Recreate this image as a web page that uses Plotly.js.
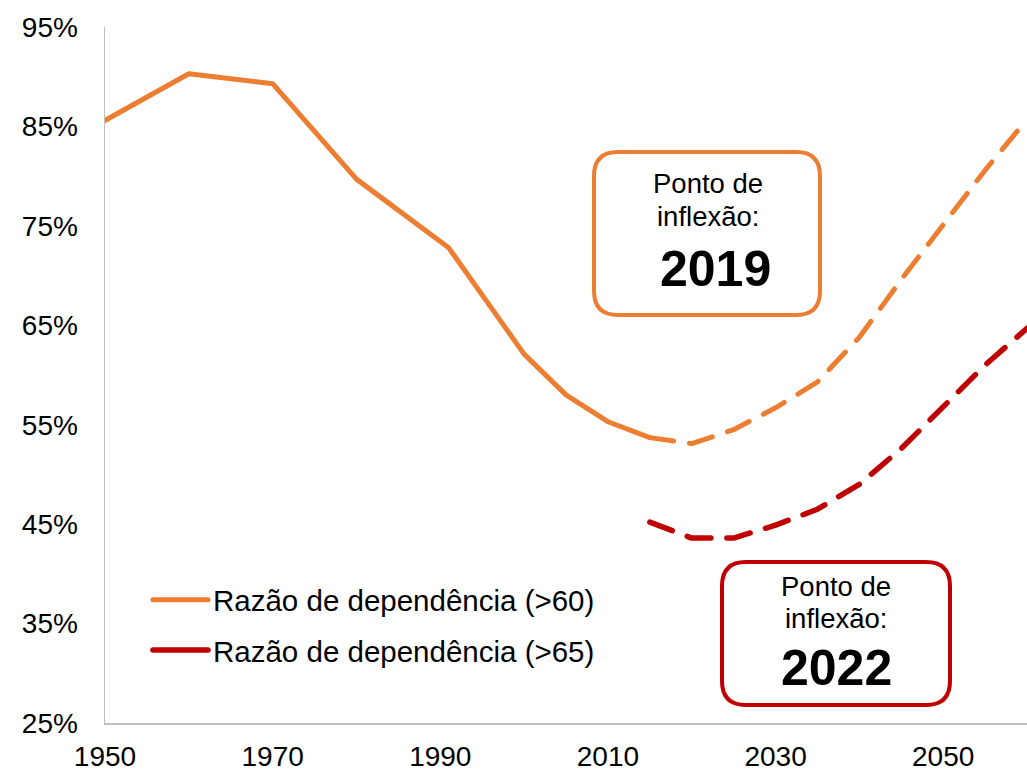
<!DOCTYPE html>
<html><head><meta charset="utf-8">
<script src="https://cdn.plot.ly/plotly-3.0.1.min.js"></script>
<style>
html,body{margin:0;padding:0;background:#fff;}
#chart{width:1027px;height:771px;}
.scatterlayer .js-line{stroke-linecap:round;stroke-linejoin:round;}
.legend .js-line{stroke-linecap:round;}
</style></head><body><div id="chart"></div>
<script>
// ---- data ----
const yearsHist = [1950, 1960, 1970, 1980, 1991, 2000, 2005, 2010, 2015];
const ratio60Hist = [85.6, 90.3, 89.3, 79.7, 72.8, 62.1, 58.0, 55.3, 53.7];
const yearsProj = [2015, 2020, 2025, 2030, 2035, 2040, 2045, 2050, 2055, 2060];
const ratio60Proj = [53.7, 53.1, 54.5, 56.7, 59.3, 63.8, 69.6, 75.2, 80.6, 85.7];
const ratio65Proj = [45.2, 43.6, 43.6, 44.9, 46.5, 49.0, 52.6, 56.8, 61.0, 64.7];
const seriesNames = ['Razão de dependência (>60)', 'Razão de dependência (>65)'];
const yTicks = [25, 35, 45, 55, 65, 75, 85, 95];
const xTicks = [1950, 1970, 1990, 2010, 2030, 2050];
const inflexLabel = ['Ponto de', 'inflexão:'];
const inflexYears = ['2019', '2022'];

// ---- style ----
const ORANGE = '#ED7D31';
const RED = '#C00000';
const FONT = 'Liberation Sans, Arial, sans-serif';
const W = 1027, H = 771;
const M = {l: 105, r: 0, t: 27, b: 48};
const PW = W - M.l - M.r, PH = H - M.t - M.b;
const px = x => (x - M.l) / PW;
const py = y => (H - M.b - y) / PH;

function roundRect(x0, y0, x1, y1, r) {
  const X = v => px(v).toFixed(5), Y = v => py(v).toFixed(5);
  return 'M' + X(x0 + r) + ',' + Y(y0) +
    ' L' + X(x1 - r) + ',' + Y(y0) +
    ' Q' + X(x1) + ',' + Y(y0) + ' ' + X(x1) + ',' + Y(y0 + r) +
    ' L' + X(x1) + ',' + Y(y1 - r) +
    ' Q' + X(x1) + ',' + Y(y1) + ' ' + X(x1 - r) + ',' + Y(y1) +
    ' L' + X(x0 + r) + ',' + Y(y1) +
    ' Q' + X(x0) + ',' + Y(y1) + ' ' + X(x0) + ',' + Y(y1 - r) +
    ' L' + X(x0) + ',' + Y(y0 + r) +
    ' Q' + X(x0) + ',' + Y(y0) + ' ' + X(x0 + r) + ',' + Y(y0) + ' Z';
}

const traces = [
  {x: yearsHist, y: ratio60Hist, type: 'scatter', mode: 'lines', name: seriesNames[0],
   legendgroup: 'a', line: {color: ORANGE, width: 5}, hoverinfo: 'skip'},
  {x: yearsProj, y: ratio60Proj, type: 'scatter', mode: 'lines', name: seriesNames[0],
   legendgroup: 'a', showlegend: false, line: {color: ORANGE, width: 5, dash: '24px,16px'}, hoverinfo: 'skip'},
  {x: yearsProj, y: ratio65Proj, type: 'scatter', mode: 'lines', name: seriesNames[1],
   legendgroup: 'b', showlegend: false, line: {color: RED, width: 5.5, dash: '24px,16px'}, hoverinfo: 'skip'},
  {x: [null], y: [null], type: 'scatter', mode: 'lines', name: seriesNames[1],
   legendgroup: 'b', showlegend: true, line: {color: RED, width: 5.5}, hoverinfo: 'skip'}
];

const boxes = [
  {x0: 594, y0: 152, x1: 820, y1: 315, color: ORANGE, cx: 708, ys: [184, 217, 269], yearShift: 7},
  {x0: 722, y0: 562, x1: 950, y1: 705, color: RED, cx: 836, ys: [586, 618, 668], yearShift: 0}
];

const shapes = [], annotations = [];
boxes.forEach((b, i) => {
  shapes.push({type: 'path', xref: 'paper', yref: 'paper', path: roundRect(b.x0, b.y0, b.x1, b.y1, 24),
    line: {color: b.color, width: 4}, fillcolor: 'rgba(255,255,255,1)', layer: 'above'});
  annotations.push({xref: 'paper', yref: 'paper', x: px(b.cx), y: py(b.ys[0]), text: inflexLabel[0],
    showarrow: false, xanchor: 'center', yanchor: 'middle', font: {family: FONT, size: 27.5, color: '#000'}});
  annotations.push({xref: 'paper', yref: 'paper', x: px(b.cx), y: py(b.ys[1]), text: inflexLabel[1],
    showarrow: false, xanchor: 'center', yanchor: 'middle', font: {family: FONT, size: 27.5, color: '#000'}});
  annotations.push({xref: 'paper', yref: 'paper', x: px(b.cx + b.yearShift), y: py(b.ys[2]), text: '<b>' + inflexYears[i] + '</b>',
    showarrow: false, xanchor: 'center', yanchor: 'middle', font: {family: FONT, size: 50, color: '#000'}});
});

const layout = {
  width: W, height: H,
  margin: M,
  paper_bgcolor: '#fff', plot_bgcolor: '#fff',
  font: {family: FONT, size: 28, color: '#000'},
  showlegend: true,
  legend: {x: px(148), y: py(574), xanchor: 'left', yanchor: 'top', bgcolor: 'rgba(0,0,0,0)',
    font: {family: FONT, size: 29.5, color: '#000'}, traceorder: 'grouped', tracegroupgap: 9,
    itemwidth: 55},
  xaxis: {range: [1950, 2060], tickvals: xTicks, ticktext: xTicks.map(String), showgrid: false, zeroline: false,
    showline: true, linecolor: '#BFBFBF', linewidth: 1.5, ticks: '', ticklabelstandoff: 8,
    tickfont: {family: FONT, size: 28, color: '#000'}, fixedrange: true},
  yaxis: {range: [25, 95], tickvals: yTicks, ticktext: yTicks.map(v => v + '%'), showgrid: false, zeroline: false,
    showline: true, linecolor: '#BFBFBF', linewidth: 1.5, ticks: '', ticklabelstandoff: 20,
    tickfont: {family: FONT, size: 28, color: '#000'}, fixedrange: true},
  shapes: shapes,
  annotations: annotations
};

Plotly.newPlot('chart', traces, layout, {staticPlot: true, displayModeBar: false});
</script></body></html>
